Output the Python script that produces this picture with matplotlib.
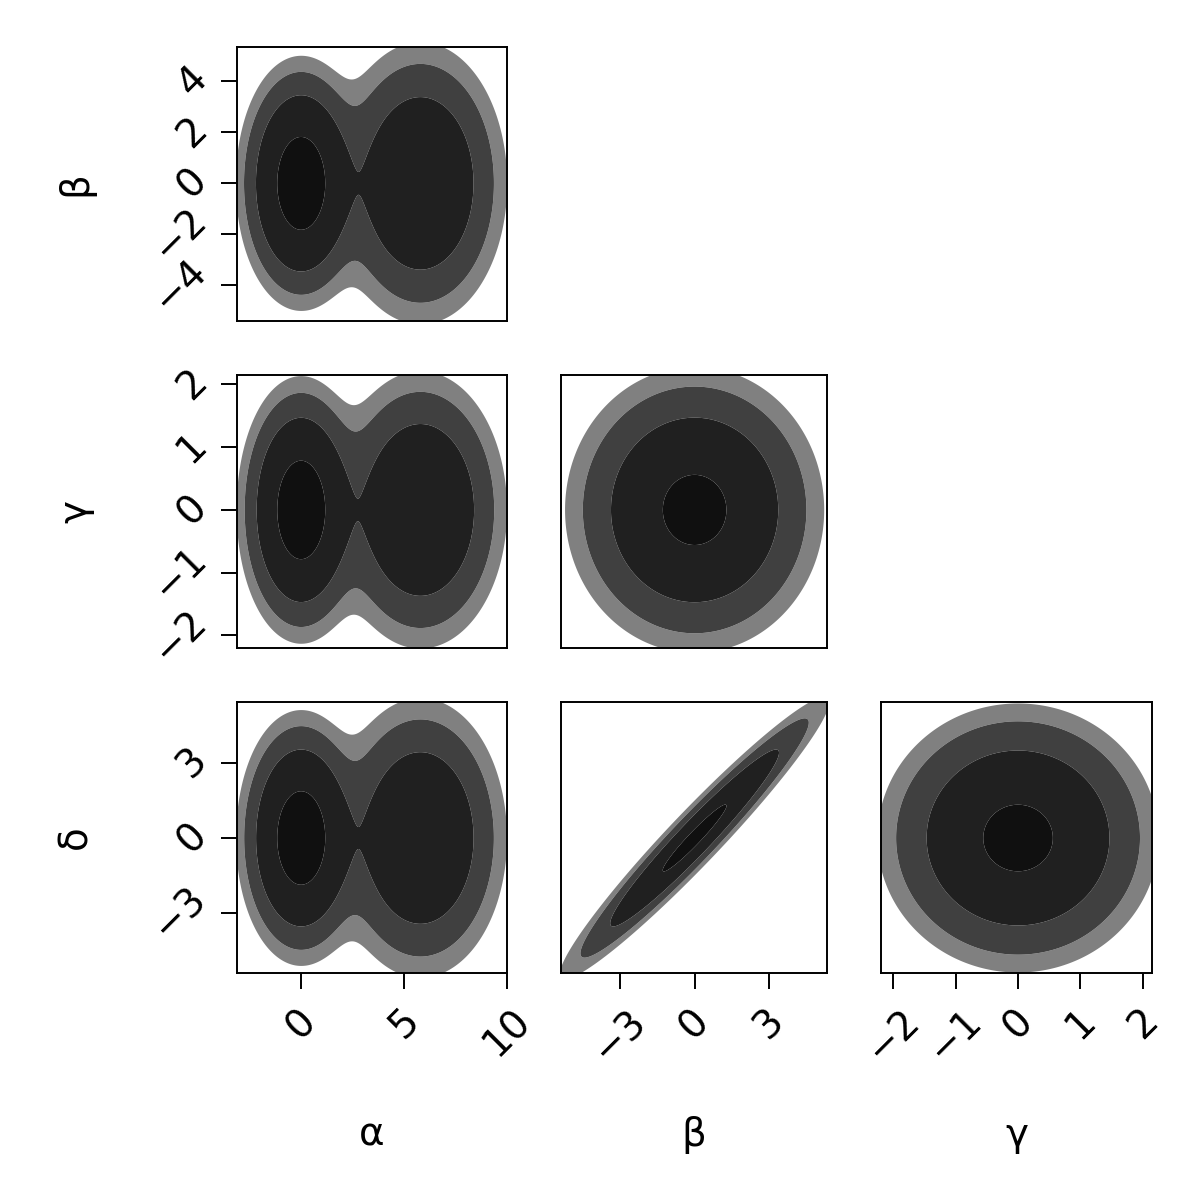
import numpy as np
import matplotlib
matplotlib.use("Agg")
import matplotlib.pyplot as plt

# variable names and the data range of each (axis limits)
var_names = ["α", "β", "γ", "δ"]
alpha_lim = (-3.1, 10.0)
beta_lim = (-5.4, 5.35)
gamma_lim = (-2.2, 2.15)
delta_lim = (-5.4, 5.44)

# α is a two-mode mixture
alpha_means = [0.0, 5.8]
alpha_sds = [1.2, 1.75]
alpha_weights = [0.5, 0.5]
# spread of the other variables inside each α mode
beta_sd_by_mode = [1.9, 2.3]
gamma_sd_by_mode = [0.82, 0.92]
delta_sd_by_mode = [1.95, 2.33]

beta_sd = 2.0
gamma_sd = 0.87
eps_sd = 0.55          # δ = β + ε

hdi_probs = [0.985, 0.94, 0.775, 0.19]
fill_colors = ["#808080", "#404040", "#202020", "#101010"]

x_ticks = {0: [0, 5, 10], 1: [-3, 0, 3], 2: [-2, -1, 0, 1, 2]}
y_ticks = {0: [-4, -2, 0, 2, 4], 1: [-2, -1, 0, 1, 2], 2: [-3, 0, 3]}


def normal(x, mu, sd):
    return np.exp(-0.5 * ((x - mu) / sd) ** 2) / sd


def alpha_joint(a, v, other_sds):
    out = 0.0
    for k in range(len(alpha_means)):
        out = out + alpha_weights[k] * normal(a, alpha_means[k], alpha_sds[k]) * normal(v, 0, other_sds[k])
    return out


def dens_alpha_beta(a, b):
    return alpha_joint(a, b, beta_sd_by_mode)


def dens_alpha_gamma(a, g):
    return alpha_joint(a, g, gamma_sd_by_mode)


def dens_alpha_delta(a, d):
    return alpha_joint(a, d, delta_sd_by_mode)


def dens_beta_gamma(b, g):
    return normal(b, 0, beta_sd) * normal(g, 0, gamma_sd)


def dens_beta_delta(b, d):
    return normal(b, 0, beta_sd) * normal(d - b, 0, eps_sd)


def dens_gamma_delta(g, d):
    return normal(g, 0, gamma_sd) * normal(d, 0, np.hypot(beta_sd, eps_sd))


def hdi_levels(dens, probs):
    flat = np.sort(dens.ravel())[::-1]
    cum = np.cumsum(flat) / flat.sum()
    return [flat[min(np.searchsorted(cum, p), flat.size - 1)] for p in probs]


lims = [alpha_lim, beta_lim, gamma_lim, delta_lim]
panels = {
    (0, 0): dens_alpha_beta,
    (1, 0): dens_alpha_gamma,
    (1, 1): dens_beta_gamma,
    (2, 0): dens_alpha_delta,
    (2, 1): dens_beta_delta,
    (2, 2): dens_gamma_delta,
}

W = H = 1200
fig = plt.figure(figsize=(12, 12), dpi=100)
col_left = [237, 561, 881]
col_w = [270, 266, 271]
row_top = [47, 375, 702]
row_h = [274, 273, 271]
font = "DejaVu Sans"
fs = 28


def fmt(t):
    return str(t).replace("-", "\u2212")


for (r, c), func in panels.items():
    ax = fig.add_axes([col_left[c] / W, 1 - (row_top[r] + row_h[r]) / H,
                       col_w[c] / W, row_h[r] / H])
    xl = lims[c]
    yl = lims[r + 1]
    xs = np.linspace(xl[0], xl[1], 300)
    ys = np.linspace(yl[0], yl[1], 300)
    X, Y = np.meshgrid(xs, ys)
    Z = func(X, Y)
    levels = hdi_levels(Z, hdi_probs) + [Z.max() * 1.01]
    ax.contourf(X, Y, Z, levels=levels, colors=fill_colors, antialiased=True)
    ax.set_xlim(xl)
    ax.set_ylim(yl)
    for s in ax.spines.values():
        s.set_linewidth(1.4)
    ax.tick_params(length=11.5, width=1.4, labelsize=fs)
    if r == 2:
        ax.set_xticks(x_ticks[c])
        ax.set_xticklabels([fmt(t) for t in x_ticks[c]], rotation=45, family=font)
        ax.tick_params(axis="x", pad=9)
    else:
        ax.set_xticks([])
    if c == 0:
        ax.set_yticks(y_ticks[r])
        ax.set_yticklabels([fmt(t) for t in y_ticks[r]], rotation=45,
                           family=font, va="center")
        ax.tick_params(axis="y", pad=5)
    else:
        ax.set_yticks([])

for r in range(3):
    fig.text(75 / W, 1 - (row_top[r] + row_h[r] / 2) / H, var_names[r + 1],
             rotation=90, ha="center", va="center", fontsize=fs, family=font)
for c in range(3):
    fig.text((col_left[c] + col_w[c] / 2) / W, 1 - 1135 / H, var_names[c],
             ha="center", va="center", fontsize=fs, family=font)

fig.savefig("out.png", dpi=100, facecolor="white")
